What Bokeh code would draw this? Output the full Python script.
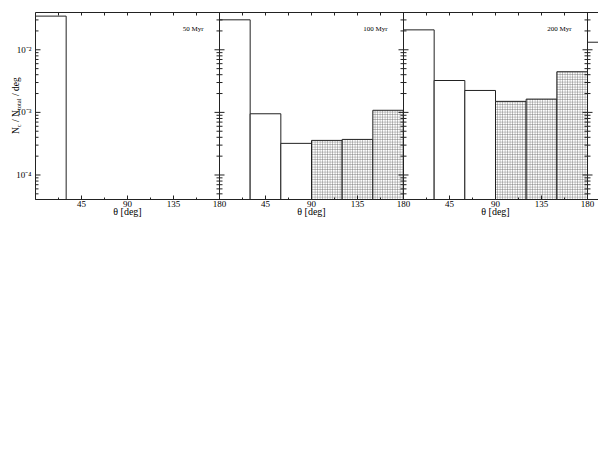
import math
from bokeh.plotting import figure
from bokeh.layouts import row
from bokeh.core.properties import value
from bokeh.models import FixedTicker, LinearAxis, LogAxis, Span, Label, Range1d, ColumnDataSource
from bokeh.embed import file_html
from bokeh.resources import INLINE

# ---------------- data ----------------
bin_edges = [0, 30, 60, 90, 120, 150, 180]          # theta bins [deg]
hatch_from = 90                                      # bins >= this angle are hatched
panel_names = ["50 Myr", "100 Myr", "200 Myr", ""]
values_50 = [0.0345, 0, 0, 0, 0, 0]
values_100 = [0.0301, 9.5e-4, 3.2e-4, 3.57e-4, 3.7e-4, 1.08e-3]
values_200 = [0.0208, 3.23e-3, 2.24e-3, 1.50e-3, 1.63e-3, 4.46e-3]
values_next = [0.0132]                               # partly visible 4th panel
x_ticks = [45, 90, 135, 180]
x_tick_labels = ["45", "90", "135", "180"]
x_minor_step = 22.5
y_decades = [1e-4, 1e-3, 1e-2]
y_tick_labels = ["10\u207b\u2074", "10\u207b\u00b3", "10\u207b\u00b2"]
y_lo, y_hi = 4.06e-5, 0.0394
x_label = "\u03b8 [deg]"
y_title = [("N", False), ("c", True), ("/", False), ("N", False), ("total", True), ("/", False), ("deg", False)]

# ---------------- layout constants ----------------
PANEL = 180.0
PANEL_PX = 184
FRAME_W = 563
FRAME_H = 187
TOP = 12
P_LEFT = 2
STRIP_W = 35 - P_LEFT
FONT = "Liberation Serif"
INK = "#222222"

x_end = FRAME_W * PANEL / PANEL_PX

p = figure(frame_width=FRAME_W, frame_height=FRAME_H,
           min_border_left=P_LEFT, min_border_right=0, min_border_top=TOP, min_border_bottom=4,
           x_range=Range1d(0, x_end), y_range=Range1d(y_lo, y_hi),
           y_axis_type="log", x_axis_type=None, y_axis_location=None,
           output_backend="svg", toolbar_location=None)
p.xgrid.visible = False
p.ygrid.visible = False
p.outline_line_color = None
p.background_fill_color = "white"
p.border_fill_color = "white"

# ---------------- bars ----------------
all_panels = [values_50, values_100, values_200, values_next]
plain = dict(left=[], right=[], top=[])
hatched = dict(left=[], right=[], top=[])
for i, vals in enumerate(all_panels):
    for j, v in enumerate(vals):
        if v <= 0:
            continue
        tgt = hatched if bin_edges[j] >= hatch_from else plain
        tgt["left"].append(i * PANEL + bin_edges[j])
        tgt["right"].append(i * PANEL + bin_edges[j + 1])
        tgt["top"].append(v)
bottom = y_lo / 100.0
p.quad(left="left", right="right", top="top", bottom=bottom, source=ColumnDataSource(plain),
       fill_color="white", line_color=INK, line_width=1)
p.quad(left="left", right="right", top="top", bottom=bottom, source=ColumnDataSource(hatched),
       fill_color="white", line_color=INK, line_width=1,
       hatch_pattern="cross", hatch_scale=2.5, hatch_color="#6a6a6a", hatch_weight=0.5)

# ---------------- y ticks ----------------
y_minor = []
for e in range(-5, -1):
    for m in range(2, 10):
        v = m * 10.0 ** e
        if y_lo <= v <= y_hi:
            y_minor.append(v)

# left border line (axis without ticks) ; inward ticks as dashes on the frame edge
yl = LogAxis(ticker=FixedTicker(ticks=[], minor_ticks=[]), major_tick_in=0, major_tick_out=0,
             minor_tick_in=0, minor_tick_out=0, major_label_standoff=0, axis_line_color=INK)
p.add_layout(yl, "left")

# ---------------- x axes ----------------
n_full = 3
x_major = []
overrides = {}
for i in range(n_full):
    for t, l in zip(x_ticks, x_tick_labels):
        pos = i * PANEL + t
        x_major.append(pos)
        overrides[pos] = l
all_steps = [k * x_minor_step for k in range(int(x_end // x_minor_step) + 1)]
x_minor = [v for v in all_steps if v not in overrides]
xb = LinearAxis(ticker=FixedTicker(ticks=x_major, minor_ticks=x_minor),
                major_label_overrides=overrides,
                major_tick_in=4, major_tick_out=0, minor_tick_in=2, minor_tick_out=0,
                major_label_standoff=1, major_label_text_font=FONT,
                major_label_text_font_size="9px", major_label_text_color="black",
                axis_line_color=INK, major_tick_line_color=INK, minor_tick_line_color=INK)
p.add_layout(xb, "below")

centers = [i * PANEL + PANEL / 2 for i in range(n_full)]
xl = LinearAxis(ticker=FixedTicker(ticks=centers, minor_ticks=[]),
                major_label_overrides={c: x_label for c in centers},
                major_tick_in=0, major_tick_out=0, axis_line_color=None,
                major_label_standoff=-4, major_label_text_font=FONT,
                major_label_text_font_size="10px", major_label_text_color="black")
p.add_layout(xl, "below")

# top border: axis line only, inward ticks drawn as short vertical dashes
xt = LinearAxis(ticker=FixedTicker(ticks=[], minor_ticks=[]),
                major_tick_in=0, major_tick_out=0, major_label_standoff=0,
                axis_line_color=INK)
p.add_layout(xt, "above")
p.scatter(x=all_steps, y=[y_hi] * len(all_steps), marker="dash", angle=math.pi / 2,
          size=6, line_color=INK, line_width=1)

# ---------------- left edge + panel dividers with ticks ----------------
for i in range(0, n_full + 1):
    xd = i * PANEL
    if i > 0:
        p.add_layout(Span(location=xd, dimension="height", line_color=INK, line_width=1))
    p.scatter(x=[xd] * len(y_decades), y=y_decades, marker="dash", size=10,
              line_color=INK, line_width=1)
    p.scatter(x=[xd] * len(y_minor), y=y_minor, marker="dash", size=6,
              line_color=INK, line_width=1)

# ---------------- panel names ----------------
for i, name in enumerate(panel_names):
    if not name:
        continue
    p.add_layout(Label(x=(i + 1) * PANEL, y=y_hi, x_offset=-16, y_offset=-16.7,
                       text=name, text_align="right", text_baseline="middle",
                       text_font=FONT, text_font_size="7px", text_color="black"))

# ---------------- left strip: y tick labels and y title (same log scale) ----------------
s = figure(frame_width=STRIP_W, frame_height=FRAME_H,
           min_border_left=0, min_border_right=0, min_border_top=TOP, min_border_bottom=4,
           x_range=Range1d(0, STRIP_W), y_range=Range1d(y_lo, y_hi),
           y_axis_type="log", x_axis_type=None, y_axis_location=None,
           output_backend="svg", toolbar_location=None)
s.xgrid.visible = False
s.ygrid.visible = False
s.outline_line_color = None
s.border_fill_color = "white"
s.background_fill_color = "white"

label_gap = 2
s.text(x=[STRIP_W - label_gap] * len(y_decades), y=y_decades, text=y_tick_labels,
       text_font=value(FONT), text_font_size=value("9px"), text_color="black",
       text_align="right", text_baseline="middle")

px_per_decade = FRAME_H / math.log10(y_hi / y_lo)
adv = {"N": 0.722, "c": 0.444, "/": 0.278, "t": 0.278, "o": 0.5,
       "a": 0.444, "l": 0.278, "d": 0.5, "e": 0.444, "g": 0.5}
big, small, space = 9.5, 6.5, 2.4
baseline_x = 15.0
start_above_bottom = 65.4
pos = start_above_bottom
main_txt = dict(x=[], y=[], text=[])
sub_txt = dict(x=[], y=[], text=[])
prev = None
for txt, sub in y_title:
    if txt == "/" or prev == "/":
        pos += space
    size = small if sub else big
    tgt = sub_txt if sub else main_txt
    tgt["x"].append(baseline_x + (2.5 if sub else 0))
    tgt["y"].append(y_lo * 10 ** (pos / px_per_decade))
    tgt["text"].append(txt)
    pos += sum(adv[ch] for ch in txt) * size
    prev = txt
s.text(x="x", y="y", text="text", source=ColumnDataSource(main_txt), angle=math.pi / 2,
       text_font=value(FONT), text_font_size=value(f"{big}px"), text_color="black",
       text_align="left", text_baseline="alphabetic")
s.text(x="x", y="y", text="text", source=ColumnDataSource(sub_txt), angle=math.pi / 2,
       text_font=value(FONT), text_font_size=value(f"{small}px"), text_color="black",
       text_align="left", text_baseline="alphabetic")

layout = row(s, p)
open("out.html", "w").write(file_html(layout, INLINE))
